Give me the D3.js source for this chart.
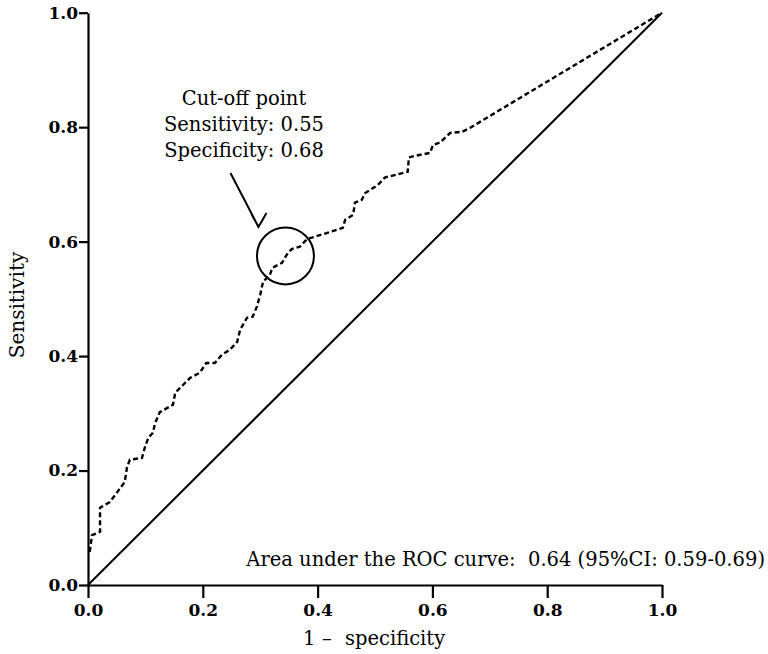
<!DOCTYPE html>
<html>
<head>
<meta charset="utf-8">
<script src="https://cdn.jsdelivr.net/npm/d3@7"></script>
<style>
  body { margin: 0; background: #fff; }
  svg { display: block; }
  .tick text { font-family: "DejaVu Serif", serif; font-weight: bold; font-size: 17px; fill: #000; }
  .label { font-family: "DejaVu Serif", serif; font-size: 19.5px; fill: #000; white-space: pre; }
</style>
</head>
<body>
<svg id="chart" width="768" height="654"></svg>
<script>
// ROC curve points (1 - specificity, sensitivity)
const fpr = [0.003, 0.007, 0.021, 0.021, 0.038, 0.047, 0.064, 0.068, 0.073, 0.094, 0.099, 0.105, 0.113, 0.117, 0.125,
  0.148, 0.152, 0.169, 0.178, 0.195, 0.206, 0.221, 0.233, 0.247, 0.260, 0.265, 0.277, 0.287, 0.294, 0.300, 0.305,
  0.317, 0.321, 0.338, 0.348, 0.355, 0.369, 0.382, 0.390, 0.422, 0.444, 0.448, 0.462, 0.465, 0.477, 0.483, 0.505,
  0.517, 0.538, 0.557, 0.559, 0.570, 0.596, 0.601, 0.613, 0.631, 0.652, 0.666, 1.0]
const tpr = [0.058, 0.087, 0.093, 0.135, 0.145, 0.157, 0.180, 0.206, 0.219, 0.222, 0.240, 0.257, 0.266, 0.283, 0.302,
  0.315, 0.336, 0.353, 0.362, 0.371, 0.388, 0.388, 0.402, 0.411, 0.425, 0.446, 0.467, 0.469, 0.486, 0.507, 0.530,
  0.542, 0.554, 0.563, 0.580, 0.587, 0.591, 0.605, 0.607, 0.617, 0.624, 0.638, 0.647, 0.668, 0.673, 0.685, 0.699,
  0.712, 0.717, 0.722, 0.747, 0.750, 0.755, 0.769, 0.773, 0.790, 0.792, 0.799, 1.0]
const refLine = [[0, 0], [1, 1]]
const ticks = [0, 0.2, 0.4, 0.6, 0.8, 1.0]
const cutoff = [0.344, 0.575]
const noteLines = ["Cut-off point", "Sensitivity: 0.55", "Specificity: 0.68"]
const aucText = "Area under the ROC curve:  0.64 (95%CI: 0.59-0.69)"

const svg = d3.select("#chart")
const x = d3.scaleLinear().domain([0, 1]).range([88, 662])
const y = d3.scaleLinear().domain([0, 1]).range([585, 12.7])

// axes
const gx = svg.append("g").attr("transform", `translate(0,${y(0)})`)
  .call(d3.axisBottom(x).tickValues(ticks).tickFormat(d3.format(".1f")).tickSize(13).tickSizeOuter(0).tickPadding(6))
const gy = svg.append("g").attr("transform", `translate(${x(0)},0)`)
  .call(d3.axisLeft(y).tickValues(ticks).tickFormat(d3.format(".1f")).tickSize(9).tickSizeOuter(0).tickPadding(1))
svg.selectAll(".domain, .tick line").attr("stroke", "#000").attr("stroke-width", 2.2)

// reference diagonal
const line = d3.line().x((d) => x(d[0])).y((d) => y(d[1]))
svg.append("path").attr("d", line(refLine))
  .attr("fill", "none").attr("stroke", "#000").attr("stroke-width", 2)

// roc curve
const pts = fpr.map((f, i) => [f, tpr[i]])
svg.append("path").attr("d", line(pts))
  .attr("fill", "none").attr("stroke", "#000").attr("stroke-width", 2.4)
  .attr("stroke-dasharray", "5,3")

// cut-off marker + arrow
const cx = x(cutoff[0]), cy = y(cutoff[1])
svg.append("circle").attr("cx", cx).attr("cy", cy).attr("r", 28.5)
  .attr("fill", "none").attr("stroke", "#000").attr("stroke-width", 2)
const tip = { x: cx - 27, y: cy - 29 }
const tail = { x: cx - 55, y: cy - 83 }
svg.append("path")
  .attr("d", `M${tail.x},${tail.y} L${tip.x},${tip.y} M${tip.x - 7},${tip.y - 13} L${tip.x},${tip.y} L${tip.x + 8},${tip.y - 14}`)
  .attr("fill", "none").attr("stroke", "#000").attr("stroke-width", 2)

svg.append("g").selectAll("text").data(noteLines).enter().append("text")
  .attr("class", "label").attr("text-anchor", "middle")
  .attr("x", 244).attr("y", (d, i) => 105 + i * 26)
  .text((d) => d)

svg.append("text").attr("class", "label").attr("text-anchor", "end")
  .attr("x", 765).attr("y", 566).text(aucText)

// axis titles
const xt = svg.append("text").attr("class", "label").attr("y", 645)
xt.append("tspan").attr("x", 303).text("1")
xt.append("tspan").attr("x", 322).text("\u2013")
xt.append("tspan").attr("x", 345).text("specificity")
svg.append("text").attr("class", "label").attr("text-anchor", "middle").style("font-size", "20px")
  .attr("transform", "translate(24,305) rotate(-90)").text("Sensitivity")
</script>
</body>
</html>
